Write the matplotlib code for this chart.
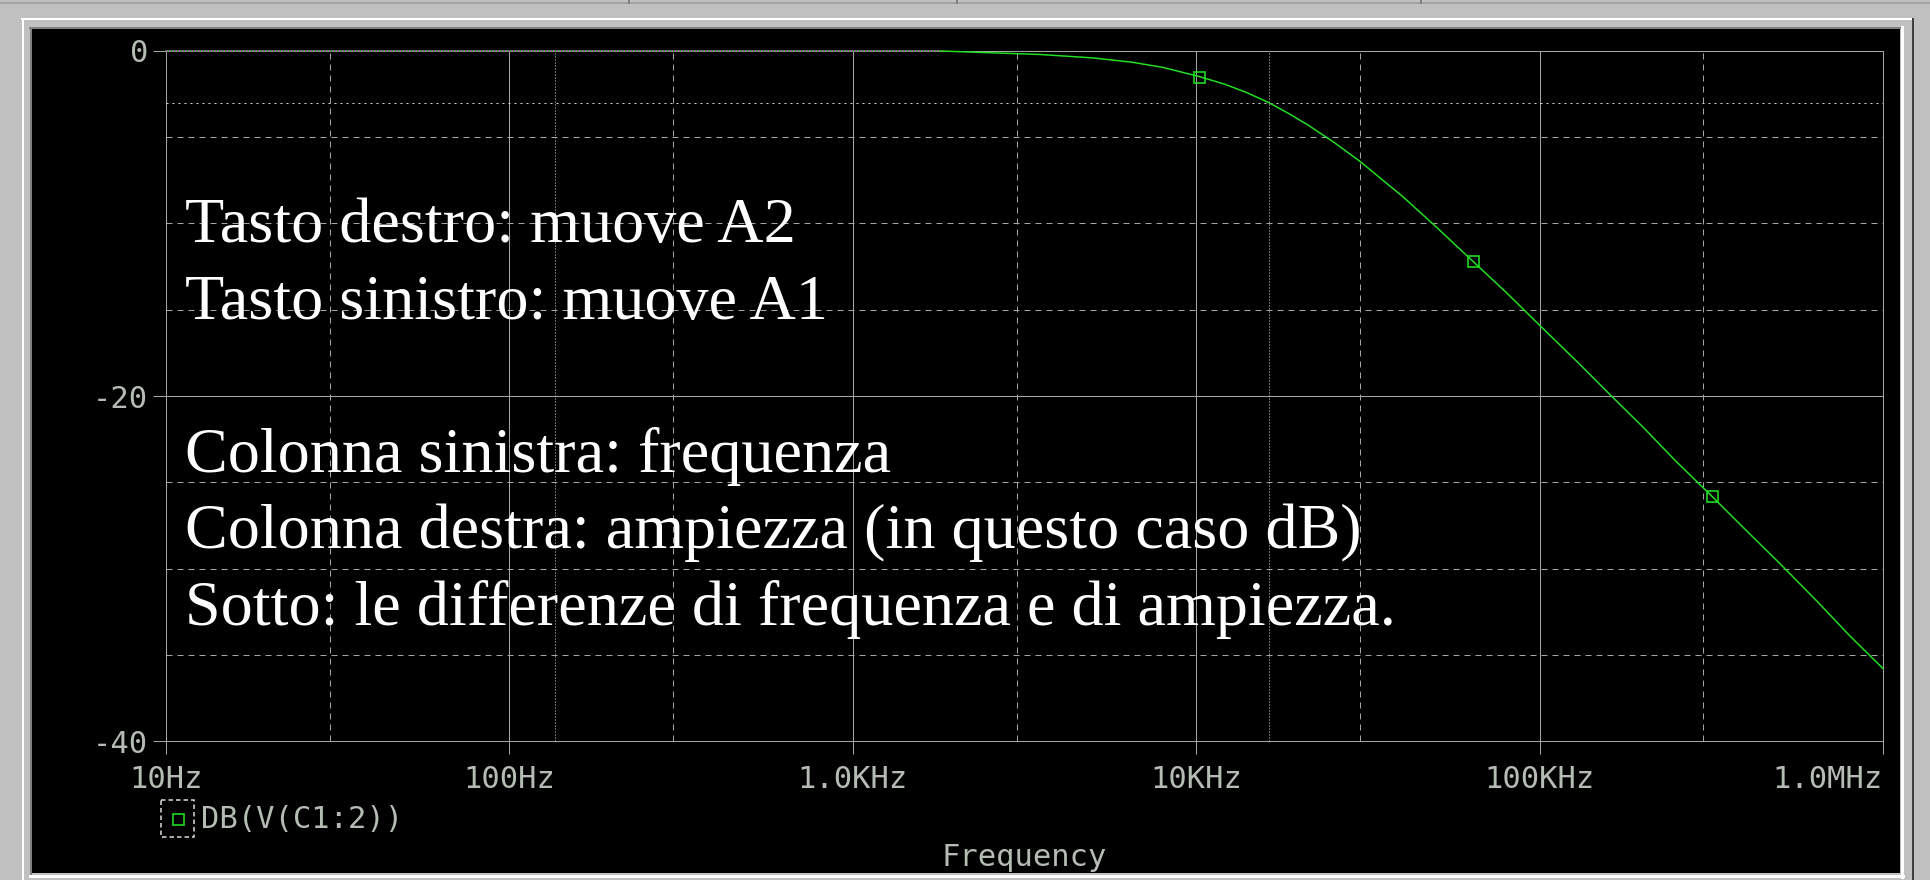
import matplotlib.pyplot as plt
from matplotlib.patches import Rectangle
from matplotlib.ticker import FixedLocator, FixedFormatter, NullFormatter

W, H = 1930, 880
PX = 72.0 / 100  # one pixel in points at dpi 100

# curve: frequency [Hz] and DB(V(C1:2)) [dB]
freq = [10, 100, 1000, 1800, 2500, 3500, 5000, 6500, 8000, 10200, 12000,
        14000, 16300, 18500, 21000, 25000, 30000, 35000, 40000, 50000,
        64000, 80000, 100000, 130000, 160000, 200000, 250000, 317000,
        400000, 500000, 650000, 800000, 1000000]
db = [0.0, 0.0, 0.0, 0.0, -0.1, -0.2, -0.4, -0.65, -0.95, -1.48, -1.9,
      -2.4, -3.0, -3.6, -4.25, -5.25, -6.4, -7.5, -8.45, -10.2,
      -12.2, -14.0, -15.9, -18.1, -19.9, -21.8, -23.8, -25.8,
      -27.8, -29.7, -32.0, -33.9, -35.8]
marker_freq = [10200, 64000, 317000]

# cursors A1 and A2
cursor_freq = [136, 16300]
cursor_db = [0.0, -3.0]

x_major = [10, 100, 1000, 10000, 100000, 1000000]
x_labels = ["10Hz", "100Hz", "1.0KHz", "10KHz", "100KHz", "1.0MHz"]
x_minor = [30, 300, 3000, 30000, 300000]
y_major = [0, -20, -40]
y_labels = ["0", "-20", "-40"]
y_minor = [-5, -10, -15, -25, -30, -35]

trace_name = "DB(V(C1:2))"
x_title = "Frequency"
notes = ["Tasto destro: muove A2",
         "Tasto sinistro: muove A1",
         "",
         "Colonna sinistra: frequenza",
         "Colonna destra: ampiezza (in questo caso dB)",
         "Sotto: le differenze di frequenza e di ampiezza."]

GRID = "#a0a8a0"
TXT = "#b4bcb4"
GREEN = "#22e022"

fig = plt.figure(figsize=(W / 100, H / 100), dpi=100, facecolor="#c0c0c0")

# window frame, in pixel coordinates
bg = fig.add_axes([0, 0, 1, 1])
bg.set_xlim(0, W)
bg.set_ylim(H, 0)
bg.axis("off")
bg.add_patch(Rectangle((32, 29), 1868, 844, facecolor="black", edgecolor="none"))
bg.plot([0, W], [3, 3], color="#9a9a9a", lw=1.5 * PX)
for xd in [629, 957, 1421]:
    bg.plot([xd, xd], [0, 3], color="#808080", lw=2 * PX)
bg.plot([22, 1912], [19.5, 19.5], color="white", lw=2 * PX)
bg.plot([22.5, 22.5], [19, H], color="white", lw=2 * PX)
bg.plot([1913, 1913], [19, H], color="#404040", lw=2 * PX)
bg.plot([30, 1901], [28.5, 28.5], color="#808080", lw=2 * PX)
bg.plot([30.5, 30.5], [28, 874], color="#808080", lw=2 * PX)
bg.plot([1902, 1902], [27, 877], color="white", lw=3 * PX)
bg.plot([30, 1903], [876, 876], color="white", lw=3 * PX)

ax = fig.add_axes([166 / W, 1 - 741 / H, 1717 / W, 690 / H])
ax.set_facecolor("none")
ax.set_xscale("log")
ax.set_xlim(10, 1e6)
ax.set_ylim(-40, 0)

ax.xaxis.set_major_locator(FixedLocator(x_major))
ax.xaxis.set_major_formatter(FixedFormatter(x_labels))
ax.xaxis.set_minor_locator(FixedLocator(x_minor))
ax.xaxis.set_minor_formatter(NullFormatter())
ax.yaxis.set_major_locator(FixedLocator(y_major))
ax.yaxis.set_major_formatter(FixedFormatter(y_labels))
ax.yaxis.set_minor_locator(FixedLocator(y_minor))

ax.tick_params(which="major", direction="out", length=13 * PX, width=PX,
               color=GRID, labelcolor=TXT, labelsize=22)
ax.tick_params(axis="x", which="major", pad=11 * PX)
ax.tick_params(axis="y", which="major", pad=5 * PX)
ax.tick_params(which="minor", length=0)
for lab in ax.get_xticklabels() + ax.get_yticklabels():
    lab.set_family("DejaVu Sans Mono")
ax.get_xticklabels()[-1].set_ha("right")

ax.grid(which="major", color=GRID, lw=PX, ls="-")
ax.grid(which="minor", color=GRID, lw=PX, ls=(0, (6, 5)))

for side in ["left", "bottom", "right", "top"]:
    ax.spines[side].set_color(GRID)
    ax.spines[side].set_linewidth(PX)
ax.spines["top"].set_linestyle((0, (1, 1)))

# cursors
for cf in cursor_freq:
    ax.axvline(cf, color="#d8d8d8", lw=PX, ls=(0, (1, 2)), zorder=2)
for cd in cursor_db[1:]:
    ax.axhline(cd, color="#d8d8d8", lw=PX, ls=(0, (2, 4)), zorder=2)

marks = [freq.index(f) for f in marker_freq]
ax.plot(freq, db, color=GREEN, lw=1.5 * PX, marker="s", markevery=marks,
        markersize=11 * PX, markerfacecolor="none", markeredgecolor=GREEN,
        markeredgewidth=1.6 * PX, zorder=3, clip_on=False)
flat_f = [f for f, d in zip(freq, db) if d == cursor_db[0]]
ax.plot(flat_f, [cursor_db[0]] * len(flat_f), color="#e020e0", lw=1.6 * PX,
        ls=(0, (1, 1)), zorder=4, clip_on=False)

ax.set_xlabel(x_title, color=TXT, fontsize=22, family="DejaVu Sans Mono")
ax.xaxis.set_label_coords(0.5, -0.148)

# legend entry below the axis
bg.add_patch(Rectangle((161, 800), 33, 37, facecolor="none", edgecolor="#e0e0e0",
                       lw=1.5 * PX, ls=(0, (3, 2))))
bg.plot([178], [819], marker="s", markersize=11 * PX, markerfacecolor="none",
        markeredgecolor=GREEN, markeredgewidth=1.6 * PX)
bg.text(201, 820, trace_name, color=TXT, fontsize=22, family="DejaVu Sans Mono",
        va="center", ha="left")

# overlay notes
base = 242
for line in notes:
    if line:
        fig.text(185 / W, 1 - base / H, line, color="white", fontsize=46.2,
                 family="Liberation Serif", va="baseline", ha="left")
    base += 76.5

fig.savefig("out.png", dpi=100, facecolor=fig.get_facecolor())
